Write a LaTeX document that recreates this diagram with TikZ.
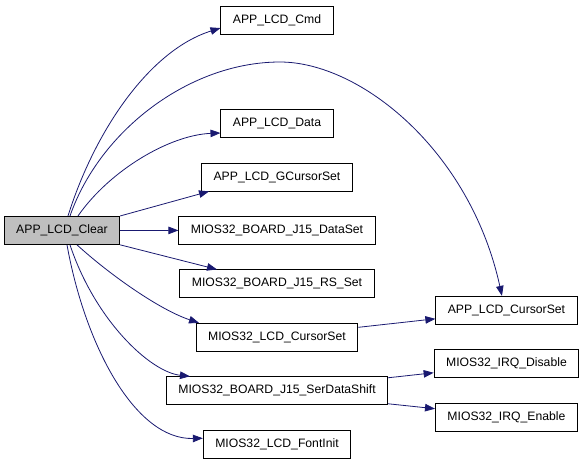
\documentclass[tikz,border=0pt]{standalone}
\usepackage{fontspec}
\setmainfont{Liberation Sans}
\usetikzlibrary{arrows.meta}
\definecolor{edgeblue}{HTML}{191970}
\definecolor{curgray}{HTML}{BFBFBF}
\tikzstyle{func} = [rectangle, minimum height=28pt, inner xsep=12pt, text centered, draw=black, line width=0.9pt, fill=white, font=\fontsize{12.2}{14}\selectfont]
\tikzstyle{current} = [func, fill=curgray]
\tikzstyle{arrow} = [draw=edgeblue, line width=0.8pt, -{Triangle[length=10pt,width=7.5pt]}]

\begin{document}
\begin{tikzpicture}[x=1pt, y=-1pt]
		\useasboundingbox (0,0) rectangle (584,464);
		\node (clear) [current] at (62,230.4) {APP\_LCD\_Clear};
		\node (data) [func] at (277,123.5) {APP\_LCD\_Data};
		\node (cmd) [func, above of = data, yshift = 75pt] {APP\_LCD\_Cmd};
		\node (gcursor) [func, below of = data, yshift = -25pt] {APP\_LCD\_GCursorSet};
		\node (dataset) [func, below of = gcursor, yshift = -25pt] {MIOS32\_BOARD\_J15\_DataSet};
		\node (rsset) [func, below of = dataset, yshift = -25pt] {MIOS32\_BOARD\_J15\_RS\_Set};
		\node (lcdcursor) [func, below of = rsset, yshift = -25pt] {MIOS32\_LCD\_CursorSet};
		\node (serdata) [func, below of = lcdcursor, yshift = -25pt] {MIOS32\_BOARD\_J15\_SerDataShift};
		\node (fontinit) [func, below of = serdata, yshift = -25pt] {MIOS32\_LCD\_FontInit};
		\node (appcursor) [func, right of = lcdcursor, xshift = 201pt, yshift = 27pt] {APP\_LCD\_CursorSet};
		\node (irqdis) [func, below of = appcursor, yshift = -25pt] {MIOS32\_IRQ\_Disable};
		\node (irqen) [func, below of = irqdis, yshift = -25pt] {MIOS32\_IRQ\_Enable};
		\draw [arrow] ([xshift=6pt]clear.north) .. controls (95,130) and (150,50) .. ([yshift=-8pt]cmd.west);
		\draw [arrow] ([xshift=8pt]clear.north) .. controls (100,130) and (190,62) .. (280,62) .. controls (360,62) and (470,150) .. ([xshift=-4.5pt]appcursor.north);
		\draw [arrow] ([xshift=16pt]clear.north) .. controls (110,170) and (170,135) .. ([yshift=-9.5pt]data.west);
		\draw [arrow] (clear.north east) -- ([xshift=-68pt]gcursor.south);
		\draw [arrow] (clear.east) -- (dataset.west);
		\draw [arrow] (clear.south east) -- ([xshift=-60pt]rsset.north);
		\draw [arrow] ([xshift=15pt]clear.south) .. controls (110,275) and (160,310) .. ([xshift=-78pt]lcdcursor.north);
		\draw [arrow] ([xshift=8pt]clear.south) .. controls (95,320) and (150,372) .. ([xshift=-87pt]serdata.north);
		\draw [arrow] ([xshift=5pt]clear.south) .. controls (85,345) and (135,440) .. ([yshift=6pt]fontinit.west);
		\draw [arrow] ([yshift=10pt]lcdcursor.east) -- ([yshift=-8.5pt]appcursor.west);
		\draw [arrow] ([yshift=13pt]serdata.east) -- ([yshift=-9pt]irqdis.west);
		\draw [arrow] ([yshift=-13pt]serdata.east) -- ([yshift=8.5pt]irqen.west);
	\end{tikzpicture}
\end{document}
